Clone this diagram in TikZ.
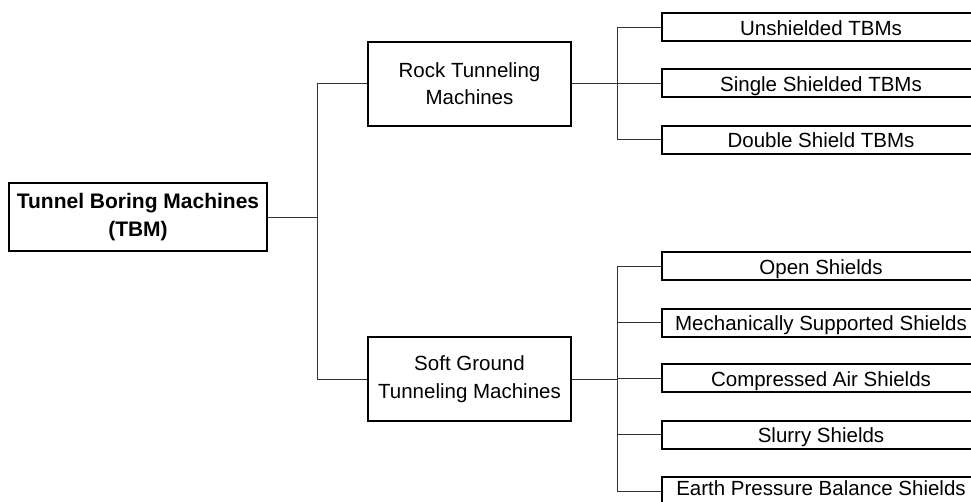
\documentclass[tikz,border=0pt]{standalone}
\usepackage{fontspec}
\setmainfont{Liberation Sans}
\begin{document}
\begin{tikzpicture}[x=1pt,y=-1pt,
  box/.style={draw=black,line width=2pt,fill=white,inner sep=0pt,align=center,
    font=\fontsize{20.5}{27.5}\selectfont},
  midbox/.style={box,minimum width=203pt,minimum height=84pt},
  leaf/.style={box,minimum width=318pt,minimum height=28pt,text height=16pt,text depth=0pt},
  conn/.style={draw=black!80,line width=1pt}]
\clip (0,0) rectangle (971,501);
\fill[white] (0,0) rectangle (971,501);
\node[box,minimum width=258pt,minimum height=68pt,font=\fontsize{21}{28.5}\selectfont\bfseries] (tbm) at (138,217) {Tunnel Boring Machines\\(TBM)};
\node[midbox] (rock) at (469.5,83.5) {Rock Tunneling\\Machines};
\node[midbox] (soft) at (469.5,379) {Soft Ground\\Tunneling Machines};
\node[leaf] (l1) at (821,27) {Unshielded TBMs};
\node[leaf] (l2) at (821,83) {Single Shielded TBMs};
\node[leaf] (l3) at (821,139.5) {Double Shield TBMs};
\node[leaf] (s1) at (821,266) {Open Shields};
\node[leaf] (s2) at (821,322.5) {Mechanically Supported Shields};
\node[leaf] (s3) at (821,378) {Compressed Air Shields};
\node[leaf] (s4) at (821,434.5) {Slurry Shields};
\node[leaf,text height=9pt] (s5) at (821,491) {Earth Pressure Balance Shields};
\coordinate (b1) at (317,0);
\coordinate (b2) at (617,0);
\draw[conn] (tbm.east) -- (tbm.east -| b1);
\draw[conn] (rock.west) -- (rock.west -| b1) -- (soft.west -| b1) -- (soft.west);
\draw[conn] (rock.east) -- (rock.east -| b2);
\draw[conn] (l1.west) -- (l1.west -| b2) -- (l3.west -| b2) -- (l3.west);
\draw[conn] (l2.west) -- (l2.west -| b2);
\draw[conn] (soft.east) -- (soft.east -| b2);
\draw[conn] (s1.west) -- (s1.west -| b2) -- (s5.west -| b2) -- (s5.west);
\draw[conn] (s2.west) -- (s2.west -| b2);
\draw[conn] (s3.west) -- (s3.west -| b2);
\draw[conn] (s4.west) -- (s4.west -| b2);
\end{tikzpicture}
\end{document}
